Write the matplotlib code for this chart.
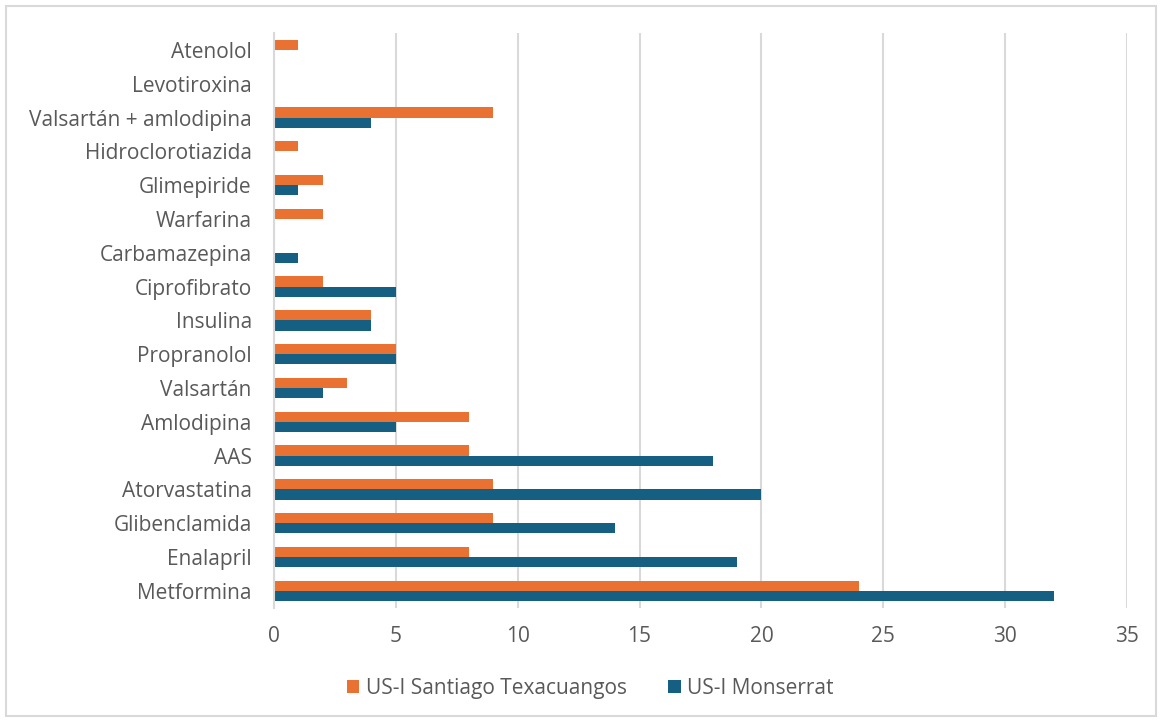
import numpy as np
import matplotlib.pyplot as plt
from matplotlib.patches import Rectangle

# categories from bottom to top
medicamentos = ['Metformina', 'Enalapril', 'Glibenclamida', 'Atorvastatina', 'AAS',
                'Amlodipina', 'Valsartán', 'Propranolol', 'Insulina', 'Ciprofibrato',
                'Carbamazepina', 'Warfarina', 'Glimepiride', 'Hidroclorotiazida',
                'Valsartán + amlodipina', 'Levotiroxina', 'Atenolol']
santiago = [24, 8, 9, 9, 8, 8, 3, 5, 4, 2, 0, 2, 2, 1, 9, 0, 1]
monserrat = [32, 19, 14, 20, 18, 5, 2, 5, 4, 5, 1, 0, 1, 0, 4, 0, 0]

orange = '#E97132'
blue = '#156082'
text_gray = '#595959'

plt.rcParams['font.family'] = ['Open Sans', 'DejaVu Sans']

fig = plt.figure(figsize=(11.62, 7.2), dpi=100)
ax = fig.add_axes([0.2358, 0.156, 0.734, 0.798])

y = np.arange(len(medicamentos))
h = 0.3
ax.barh(y + h / 2, santiago, height=h, color=orange, label='US-I Santiago Texacuangos', zorder=3)
ax.barh(y - h / 2, monserrat, height=h, color=blue, label='US-I Monserrat', zorder=3)

ax.set_xlim(0, 35)
ax.set_ylim(-0.5, len(medicamentos) - 0.5)
ax.set_xticks(range(0, 36, 5))
ax.set_yticks(y)
ax.set_yticklabels(medicamentos)
ax.tick_params(axis='both', length=0, labelsize=15, colors=text_gray)
ax.tick_params(axis='x', pad=13)
ax.tick_params(axis='y', pad=16)
ax.grid(axis='x', color='#D9D9D9', linewidth=1.5, zorder=0)

for s in ['top', 'right', 'bottom']:
    ax.spines[s].set_visible(False)
ax.spines['left'].set_color('#D9D9D9')
ax.spines['left'].set_linewidth(1.5)
ax.spines['left'].set_zorder(4)

fig.legend(loc='center', bbox_to_anchor=(0.508, 0.044), ncol=2, frameon=False,
           fontsize=15, labelcolor=text_gray, handlelength=0.6, handleheight=0.6,
           handletextpad=0.3, columnspacing=2.0)

# light frame around the chart area
fig.patches.append(Rectangle((0.005, 0.006), 0.99, 0.986, transform=fig.transFigure,
                             fill=False, edgecolor='#D9D9D9', linewidth=1.5))

fig.savefig('out.png', dpi=100, facecolor='white')
